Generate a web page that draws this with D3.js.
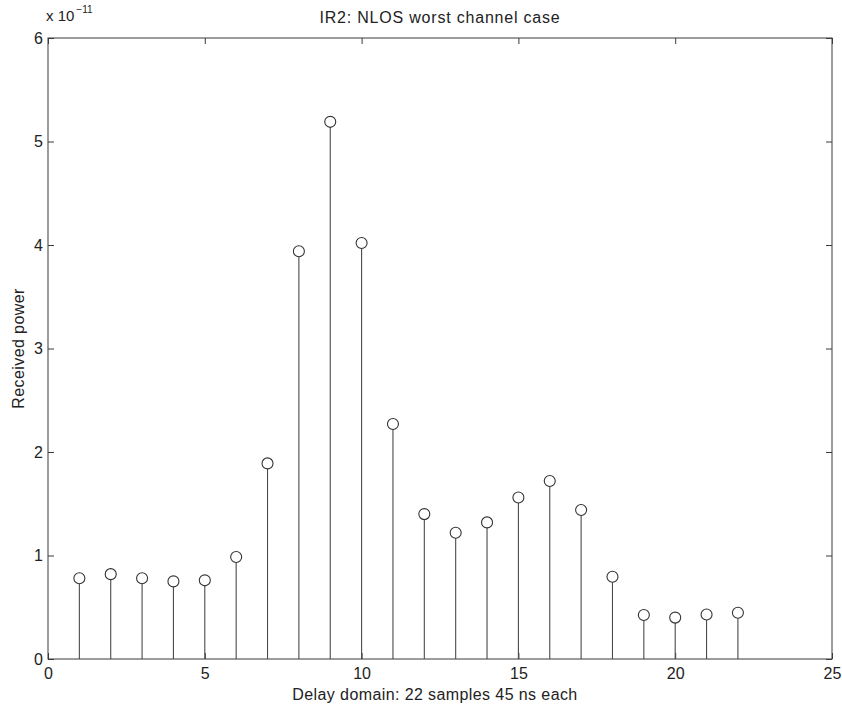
<!DOCTYPE html>
<html>
<head>
<meta charset="utf-8">
<script src="https://cdn.jsdelivr.net/npm/d3@7"></script>
<style>
  html, body { margin: 0; padding: 0; background: #fff; }
  svg { display: block; font-family: "Liberation Sans", Arial, sans-serif; }
</style>
</head>
<body>
<svg id="chart" width="842" height="707"></svg>
<script>
// Delay samples (index) and received power (in units of 1e-11)
const samples = [1, 2, 3, 4, 5, 6, 7, 8, 9, 10, 11, 12, 13, 14, 15, 16, 17, 18, 19, 20, 21, 22];
const power = [0.78, 0.82, 0.78, 0.75, 0.76, 0.985, 1.89, 3.94, 5.19, 4.02, 2.27, 1.40,
               1.22, 1.32, 1.56, 1.72, 1.44, 0.795, 0.425, 0.40, 0.43, 0.447];
const xTicks = [0, 5, 10, 15, 20, 25];
const yTicks = [0, 1, 2, 3, 4, 5, 6];

const titleText = "IR2: NLOS worst channel case";
const xLabel = "Delay domain: 22 samples 45 ns each";
const yLabel = "Received power";

const svg = d3.select("#chart");
const margin = { left: 48, right: 10, top: 38, bottom: 48 };
const W = 842, H = 707;
const x0 = margin.left, x1 = W - margin.right;
const y0 = H - margin.bottom, y1 = margin.top;

const x = d3.scaleLinear().domain([0, 25]).range([x0, x1]);
const y = d3.scaleLinear().domain([0, 6]).range([y0, y1]);

const axisColor = "#3a3a3a";
const textColor = "#222";
const tickLen = 6;

// Frame box
svg.append("rect")
  .attr("x", x0).attr("y", y1)
  .attr("width", x1 - x0).attr("height", y0 - y1)
  .attr("fill", "none").attr("stroke", axisColor).attr("stroke-width", 1);

// Axes with inward ticks on all four sides
const xAxisB = d3.axisBottom(x).tickValues(xTicks).tickSize(-tickLen).tickPadding(9).tickFormat(d3.format("d"));
const xAxisT = d3.axisTop(x).tickValues(xTicks).tickSize(-tickLen).tickFormat("");
const yAxisL = d3.axisLeft(y).tickValues(yTicks).tickSize(-tickLen).tickPadding(5).tickFormat(d3.format("d"));
const yAxisR = d3.axisRight(y).tickValues(yTicks).tickSize(-tickLen).tickFormat("");

function styleAxis(g) {
  g.select(".domain").remove();
  g.selectAll(".tick line").attr("stroke", axisColor);
  g.selectAll(".tick text").attr("fill", textColor).style("font-size", "16px")
    .style("font-family", "'Liberation Sans', Arial, sans-serif");
}

svg.append("g").attr("transform", `translate(0,${y0})`).call(xAxisB).call(styleAxis);
svg.append("g").attr("transform", `translate(0,${y1})`).call(xAxisT).call(styleAxis);
svg.append("g").attr("transform", `translate(${x0},0)`).call(yAxisL).call(styleAxis);
svg.append("g").attr("transform", `translate(${x1},0)`).call(yAxisR).call(styleAxis);

// Stems
const data = samples.map((s, i) => ({ s, v: power[i] }));
svg.append("g").selectAll("line")
  .data(data).join("line")
  .attr("x1", d => x(d.s)).attr("x2", d => x(d.s))
  .attr("y1", y(0)).attr("y2", d => y(d.v) + 5.5)
  .attr("stroke", "#4a4a4a").attr("stroke-width", 1.1);

// Open circle markers
svg.append("g").selectAll("circle")
  .data(data).join("circle")
  .attr("cx", d => x(d.s)).attr("cy", d => y(d.v))
  .attr("r", 5.5)
  .attr("fill", "none").attr("stroke", "#333").attr("stroke-width", 1.1);

// Exponent annotation
const expo = svg.append("text").attr("x", 46).attr("y", 21)
  .attr("fill", textColor).style("font-size", "15px");
expo.append("tspan").text("x 10");
expo.append("tspan").attr("dy", -8).attr("dx", 2).style("font-size", "10px").text("\u221211");

// Title and axis labels
svg.append("text").attr("x", (x0 + x1) / 2).attr("y", 23)
  .attr("text-anchor", "middle").attr("fill", textColor).style("font-size", "16px")
  .style("letter-spacing", "0.8px")
  .text(titleText);

svg.append("text").attr("x", (x0 + x1) / 2 - 5).attr("y", 700)
  .attr("text-anchor", "middle").attr("fill", textColor).style("font-size", "16px")
  .style("letter-spacing", "0.4px")
  .text(xLabel);

svg.append("text")
  .attr("transform", `translate(24,${(y0 + y1) / 2}) rotate(-90)`)
  .attr("text-anchor", "middle").attr("fill", textColor).style("font-size", "16px")
  .style("letter-spacing", "0.4px")
  .text(yLabel);
</script>
</body>
</html>
